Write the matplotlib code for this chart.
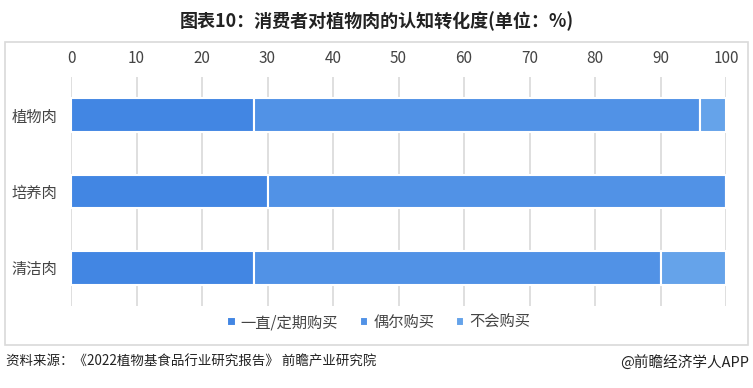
import matplotlib
matplotlib.use("Agg")
import matplotlib.pyplot as plt
from matplotlib.patches import Rectangle

plt.rcParams["font.family"] = ["Noto Sans CJK SC", "DejaVu Sans"]

categories = ["植物肉", "培养肉", "清洁肉"]
series_names = ["一直/定期购买", "偶尔购买", "不会购买"]
regular = [28, 30, 28]
occasional = [68, 70, 62]
never = [4, 0, 10]
colors = ["#4286e3", "#5192e6", "#65a3ea"]

fig = plt.figure(figsize=(7.53, 3.88), dpi=100)
ax = fig.add_axes([0.0943, 0.2113, 0.8699, 0.5902])

# outer frame
fig.patches.append(Rectangle((0.007, 0.111), 0.986, 0.781, transform=fig.transFigure,
                             fill=False, edgecolor="#d9d9d9", linewidth=1.2))

ys = range(len(categories))
left = [0] * len(categories)
for vals, name, c in zip([regular, occasional, never], series_names, colors):
    ax.barh(ys, vals, left=left, height=0.44, color=c, edgecolor="white",
            linewidth=1.5, label=name, zorder=3)
    left = [a + b for a, b in zip(left, vals)]

ax.set_xlim(0, 100)
ax.set_ylim(2.5, -0.5)
ax.set_xticks(range(0, 101, 10))
ax.set_yticks(list(ys))
ax.set_yticklabels(categories)
ax.xaxis.tick_top()
ax.tick_params(axis="both", length=0, labelsize=11, colors="#444444")
ax.tick_params(axis="x", pad=7)
ax.tick_params(axis="y", pad=10)
ax.grid(axis="x", color="#d9d9d9", linewidth=1.2, zorder=0)
for s in ax.spines.values():
    s.set_visible(False)

ax.legend(loc="upper center", bbox_to_anchor=(0.47, 0.025), ncol=3, frameon=False,
          fontsize=11, handlelength=0.55, handleheight=0.55, handletextpad=0.35,
          columnspacing=1.4, labelcolor="#444444")

fig.text(0.5, 0.945, "图表10：消费者对植物肉的认知转化度(单位：%)", ha="center", va="center",
         fontsize=13, fontweight="bold", color="#222222")
fig.text(0.008, 0.067, "资料来源：《2022植物基食品行业研究报告》 前瞻产业研究院", ha="left",
         va="center", fontsize=9.7, color="#222222")
fig.text(0.995, 0.067, "@前瞻经济学人APP", ha="right", va="center", fontsize=10.5,
         color="#222222")

fig.savefig("out.png", dpi=100)
